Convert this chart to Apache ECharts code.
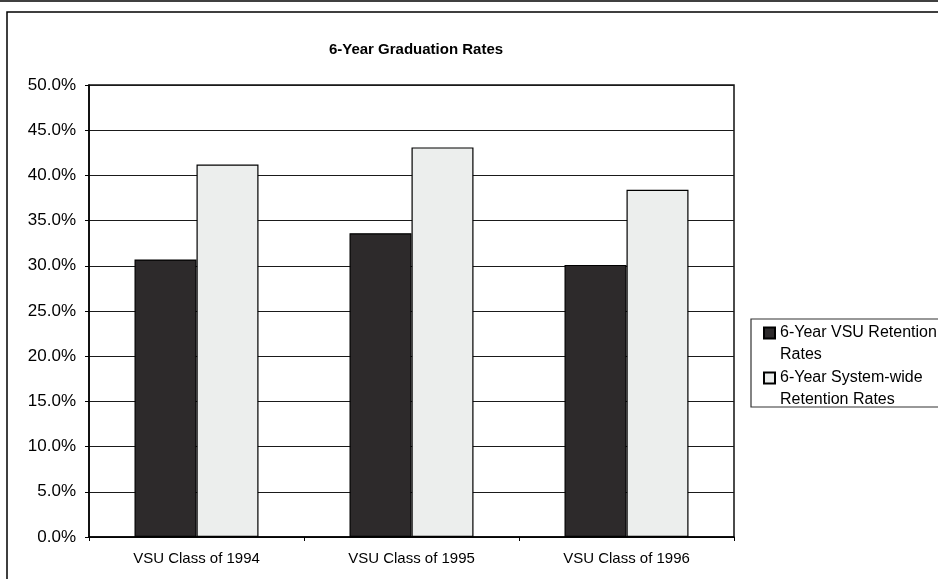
<!DOCTYPE html>
<html>
<head>
<meta charset="utf-8">
<script src="https://cdn.jsdelivr.net/npm/echarts@6/dist/echarts.min.js"></script>
<style>html,body{margin:0;padding:0;background:#fff;}#c{width:938px;height:579px;}</style>
</head>
<body>
<div id="c"></div>
<script>
const categories = ['VSU Class of 1994', 'VSU Class of 1995', 'VSU Class of 1996'];
const vsuRates = [30.7, 33.6, 30.1];
const systemRates = [41.2, 43.1, 38.4];
const seriesNames = ['6-Year VSU Retention\nRates', '6-Year System-wide\nRetention Rates'];
const yTicks = { min: 0, max: 50, interval: 5 };
const titleText = '6-Year Graduation Rates';

const FONT = 'Liberation Sans, Arial, sans-serif';
const chart = echarts.init(document.getElementById('c'), null, { renderer: 'canvas' });
chart.setOption({
  backgroundColor: '#fff',
  animation: false,
  title: {
    text: titleText,
    left: 411, top: 37, textAlign: 'center',
    textStyle: { fontFamily: FONT, fontSize: 15, fontWeight: 'bold', color: '#000' }
  },
  grid: { left: 89, right: 204, top: 85, bottom: 42, show: true, borderColor: '#111', borderWidth: 1.5, backgroundColor: 'transparent' },
  legend: {
    orient: 'vertical', left: 763, top: 300, padding: 0, itemGap: -21,
    itemWidth: 11, itemHeight: 11, icon: 'rect',
    formatter: name => '\n' + name,
    textStyle: { fontFamily: FONT, fontSize: 16, color: '#000', lineHeight: 22 },
    data: seriesNames
  },
  xAxis: {
    type: 'category', data: categories,
    axisLine: { lineStyle: { color: '#000', width: 1.5 } },
    axisTick: { show: true, length: 4, lineStyle: { color: '#000' } },
    axisLabel: { fontFamily: FONT, fontSize: 15, color: '#000', margin: 14 }
  },
  yAxis: {
    type: 'value', min: yTicks.min, max: yTicks.max, interval: yTicks.interval,
    axisLine: { show: true, lineStyle: { color: '#000', width: 1.5 } },
    axisTick: { show: true, length: 4, lineStyle: { color: '#000' } },
    axisLabel: { fontFamily: FONT, fontSize: 17, color: '#000', margin: 13, formatter: v => v.toFixed(1) + '%' },
    splitLine: { show: true, lineStyle: { color: '#1a1a1a', width: 1.2 } }
  },
  series: [
    { name: seriesNames[0], type: 'bar', data: vsuRates, barWidth: 62, barGap: '0%',
      itemStyle: { color: '#2d2a2b', borderColor: '#000', borderWidth: 1.2 } },
    { name: seriesNames[1], type: 'bar', data: systemRates, barWidth: 62,
      itemStyle: { color: '#eceeed', borderColor: '#000', borderWidth: 1.2 } }
  ],
  graphic: [
    { type: 'line', shape: { x1: 0, y1: 1, x2: 938, y2: 1 }, style: { stroke: '#000', lineWidth: 1.5 }, silent: true },
    { type: 'rect', shape: { x: 7, y: 12, width: 1000, height: 700 }, style: { fill: 'none', stroke: '#000', lineWidth: 1.5 }, silent: true, z: -1 },
    { type: 'rect', shape: { x: 751, y: 319, width: 300, height: 88 }, style: { fill: 'none', stroke: '#333', lineWidth: 1.2 }, silent: true }
  ]
});
</script>
</body>
</html>
